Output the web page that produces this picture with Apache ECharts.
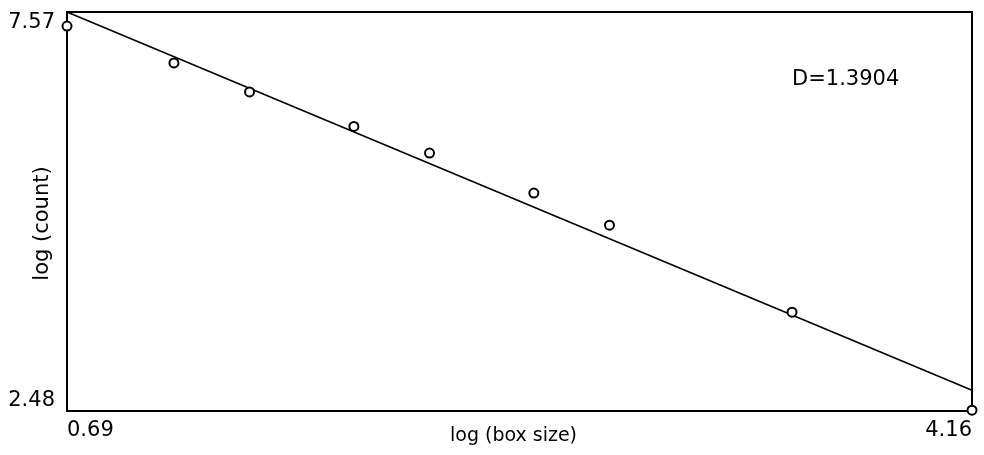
<!DOCTYPE html>
<html>
<head>
<meta charset="utf-8">
<script src="https://cdn.jsdelivr.net/npm/echarts@6/dist/echarts.min.js"></script>
<style>
html,body{margin:0;padding:0;background:#fff;}
#chart{width:984px;height:455px;}
</style>
</head>
<body>
<div id="chart"></div>
<script>
// Data
var logBoxSize = [0.69, 1.10, 1.39, 1.79, 2.08, 2.48, 2.77, 3.47, 4.16];
var logCount   = [7.39, 6.92, 6.55, 6.11, 5.77, 5.26, 4.85, 3.74, 2.49];
var fitX = [0.69, 4.16];
var fitY = [7.57, 2.745];
var xRange = [0.69, 4.16];
var yRange = [2.48, 7.57];
var dimensionLabel = 'D=1.3904';
var xName = 'log (box size)';
var yName = 'log (count)';

var FONT = 'DejaVu Sans';
var chart = echarts.init(document.getElementById('chart'), null, {renderer: 'canvas'});

function pairs(xs, ys) { return xs.map(function (x, i) { return [x, ys[i]]; }); }

chart.setOption({
  animation: false,
  backgroundColor: '#fff',
  title: {
    text: dimensionLabel,
    left: 787, top: 64,
    textStyle: {fontFamily: FONT, fontSize: 21, fontWeight: 'normal', color: '#000'}
  },
  grid: {
    left: 67, right: 12, top: 12, bottom: 44,
    containLabel: false,
    outerBoundsMode: 'none',
    show: true, borderColor: '#000', borderWidth: 2, backgroundColor: 'transparent'
  },
  xAxis: {
    type: 'value',
    min: xRange[0], max: xRange[1],
    name: xName, nameLocation: 'middle', nameGap: 16, nameMoveOverlap: false,
    nameTextStyle: {fontFamily: FONT, fontSize: 19, color: '#000', padding: [0, 12, 0, 0]},
    axisLine: {show: false}, axisTick: {show: false}, splitLine: {show: false},
    axisLabel: {
      fontFamily: FONT, fontSize: 21, color: '#000', margin: 9,
      showMinLabel: true, showMaxLabel: true,
      alignMinLabel: 'left', alignMaxLabel: 'right',
      formatter: function (v) {
        if (Math.abs(v - xRange[0]) < 1e-9 || Math.abs(v - xRange[1]) < 1e-9) return v.toFixed(2);
        return '';
      }
    }
  },
  yAxis: {
    type: 'value',
    min: yRange[0], max: yRange[1],
    name: yName, nameLocation: 'middle', nameGap: 14, nameMoveOverlap: false,
    nameTextStyle: {fontFamily: FONT, fontSize: 21, color: '#000', padding: [0, 24, 0, 0]},
    axisLine: {show: false}, axisTick: {show: false}, splitLine: {show: false},
    axisLabel: {
      fontFamily: FONT, fontSize: 21, color: '#000', margin: 12,
      showMinLabel: true, showMaxLabel: true,
      verticalAlignMinLabel: 'bottom', verticalAlignMaxLabel: 'top',
      formatter: function (v) {
        if (Math.abs(v - yRange[0]) < 1e-9 || Math.abs(v - yRange[1]) < 1e-9) return v.toFixed(2);
        return '';
      }
    }
  },
  series: [
    {
      type: 'line',
      data: pairs(fitX, fitY),
      symbol: 'none',
      lineStyle: {color: '#000', width: 1.6},
      z: 2
    },
    {
      type: 'scatter',
      data: pairs(logBoxSize, logCount),
      symbol: 'emptyCircle',
      symbolSize: 9,
      itemStyle: {color: '#000', borderColor: '#000', borderWidth: 2, opacity: 1},
      z: 3
    }
  ]
});
</script>
</body>
</html>
